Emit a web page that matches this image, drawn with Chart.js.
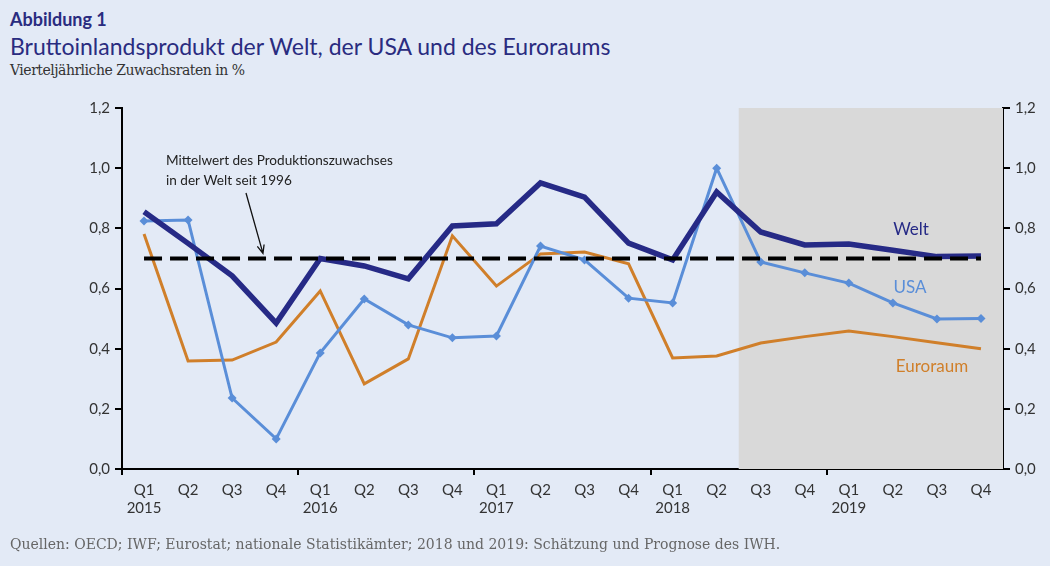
<!DOCTYPE html>
<html lang="de">
<head>
<meta charset="utf-8">
<title>Abbildung 1</title>
<script src="https://cdn.jsdelivr.net/npm/chart.js@4"></script>
<style>
  html, body { margin: 0; padding: 0; }
  body { width: 1050px; height: 566px; background: #e3eaf6; position: relative; overflow: hidden; }
  #chart-wrap { position: absolute; left: 0; top: 0; width: 1050px; height: 566px; }
  .txt { position: absolute; left: 10px; white-space: nowrap; }
  #fig-no { top: 8px; font: bold 18px Lato, "Noto Sans", sans-serif; color: #2a2c80; }
  #fig-title { top: 32px; font: 23px Lato, "Noto Sans", sans-serif; color: #2a2c80; }
  #fig-sub { top: 62px; font: 14px "DejaVu Serif", serif; color: #333; letter-spacing: -0.5px; }
  #fig-src { top: 536px; font: 14px "DejaVu Serif", serif; color: #666; letter-spacing: 0px; }
</style>
</head>
<body>
<div id="fig-no" class="txt">Abbildung 1</div>
<div id="fig-title" class="txt">Bruttoinlandsprodukt der Welt, der USA und des Euroraums</div>
<div id="fig-sub" class="txt">Vierteljährliche Zuwachsraten in %</div>
<div id="chart-wrap"><canvas id="gdp-chart" width="1050" height="566"></canvas></div>
<div id="fig-src" class="txt">Quellen: OECD; IWF; Eurostat; nationale Statistikämter; 2018 und 2019: Schätzung und Prognose des IWH.</div>

<script>
// --- data ---
const quarters = ['Q1', 'Q2', 'Q3', 'Q4'];
const years = ['2015', '2016', '2017', '2018', '2019'];

const welt = [0.855, 0.75, 0.642, 0.485, 0.70, 0.675, 0.632, 0.808, 0.815, 0.951,
              0.904, 0.751, 0.695, 0.921, 0.788, 0.745, 0.748, 0.727, 0.706, 0.708];
const usa = [0.824, 0.828, 0.236, 0.10, 0.386, 0.565, 0.479, 0.436, 0.442, 0.741,
             0.695, 0.568, 0.552, 1.0, 0.688, 0.652, 0.618, 0.552, 0.499, 0.50];
const euroraum = [0.781, 0.359, 0.362, 0.422, 0.592, 0.283, 0.366, 0.775, 0.608, 0.715,
                  0.721, 0.682, 0.369, 0.376, 0.419, 0.44, 0.459, 0.44, 0.42, 0.40];
const worldAverage = 0.70;       // Mittelwert seit 1996
const forecastStart = 13.5;      // shading begins between Q2 and Q3 2018

const yTicks = [0, 0.2, 0.4, 0.6, 0.8, 1.0, 1.2];

// build category labels: "Q1" with the year underneath on every first quarter
const labels = [];
years.forEach(y => quarters.forEach(q => labels.push(q === 'Q1' ? [q, y] : q)));

const axisFont = { family: 'Lato, "Noto Sans", sans-serif', size: 15 };
const fmt = v => v.toFixed(1).replace('.', ',');

// grey forecast area behind the lines
const shadePlugin = {
    id: 'shade',
    beforeDatasetsDraw(chart) {
        const { ctx, chartArea, scales } = chart;
        const x0 = (scales.x.getPixelForValue(Math.floor(forecastStart)) +
                    scales.x.getPixelForValue(Math.ceil(forecastStart))) / 2;
        ctx.save();
        ctx.fillStyle = '#d9d9d9';
        ctx.fillRect(x0, chartArea.top, chartArea.right - x0, chartArea.bottom - chartArea.top);
        ctx.restore();
    }
};

// series names and the annotation with its arrow
const notesPlugin = {
    id: 'notes',
    afterDatasetsDraw(chart) {
        const { ctx, scales } = chart;
        ctx.save();
        ctx.textBaseline = 'middle';
        ctx.font = '17px Lato, "Noto Sans", sans-serif';
        ctx.textAlign = 'center';
        ctx.fillStyle = '#262a86'; ctx.fillText('Welt', 911, 230);
        ctx.fillStyle = '#5a8ed8'; ctx.fillText('USA', 910, 288);
        ctx.fillStyle = '#d07f2a'; ctx.fillText('Euroraum', 932, 367);

        ctx.font = '13.6px Lato, "Noto Sans", sans-serif';
        ctx.textAlign = 'left';
        ctx.fillStyle = '#222';
        ctx.fillText('Mittelwert des Produktionszuwachses', 166, 161);
        ctx.fillText('in der Welt seit 1996', 166, 181);

        // arrow pointing at the average line
        const tx = scales.x.getPixelForValue(2.7);
        const ty = scales.y.getPixelForValue(worldAverage) - 5;
        const sx = 246, sy = 193;
        const a = Math.atan2(ty - sy, tx - sx);
        ctx.strokeStyle = '#111';
        ctx.lineWidth = 1.3;
        ctx.beginPath();
        ctx.moveTo(sx, sy); ctx.lineTo(tx, ty);
        ctx.moveTo(tx - 9 * Math.cos(a - 0.4), ty - 9 * Math.sin(a - 0.4));
        ctx.lineTo(tx, ty);
        ctx.lineTo(tx - 9 * Math.cos(a + 0.4), ty - 9 * Math.sin(a + 0.4));
        ctx.stroke();
        ctx.restore();
    }
};

const yAxis = (position) => ({
    position: position,
    min: 0,
    max: 1.2,
    afterBuildTicks: scale => { scale.ticks = yTicks.map(v => ({ value: v })); },
    afterFit: scale => { scale.width = position === 'left' ? 122 : 47; },
    border: { display: true, color: '#000', width: 2 },
    grid: { drawOnChartArea: false, drawTicks: true, tickLength: 7, color: '#000', lineWidth: 2 },
    ticks: { color: '#333', font: axisFont, padding: 5, callback: v => fmt(v) }
});

new Chart(document.getElementById('gdp-chart'), {
    type: 'line',
    data: {
        labels: labels,
        datasets: [
            {
                label: 'Mittelwert',
                data: labels.map(() => worldAverage),
                borderColor: '#000',
                borderWidth: 4,
                borderDash: [18, 8],
                pointRadius: 0,
                order: 0
            },
            {
                label: 'Welt',
                data: welt,
                borderColor: '#262a86',
                borderWidth: 5.5,
                pointRadius: 0,
                order: 1
            },
            {
                label: 'USA',
                data: usa,
                borderColor: '#5a8ed8',
                backgroundColor: '#5a8ed8',
                borderWidth: 3,
                pointStyle: 'rectRot',
                pointRadius: 4.5,
                pointBorderWidth: 0,
                order: 2
            },
            {
                label: 'Euroraum',
                data: euroraum,
                borderColor: '#d07f2a',
                borderWidth: 3,
                pointRadius: 0,
                order: 3
            }
        ]
    },
    options: {
        responsive: false,
        animation: false,
        layout: { padding: { top: 108, left: 0, right: 0, bottom: 0 } },
        plugins: {
            legend: { display: false },
            tooltip: { enabled: false }
        },
        scales: {
            x: {
                offset: true,
                afterFit: scale => { scale.height = 97; },
                border: { display: true, color: '#000', width: 2 },
                grid: {
                    offset: true,
                    drawOnChartArea: false,
                    drawTicks: true,
                    tickLength: 6,
                    lineWidth: 2,
                    color: ctx => (ctx.index % 4 === 0 ? '#000' : 'rgba(0,0,0,0)')
                },
                ticks: {
                    color: '#333', font: axisFont, padding: 6,
                    maxRotation: 0, autoSkip: false
                }
            },
            y: yAxis('left'),
            y2: yAxis('right')
        }
    },
    plugins: [shadePlugin, notesPlugin]
});
</script>
</body>
</html>
